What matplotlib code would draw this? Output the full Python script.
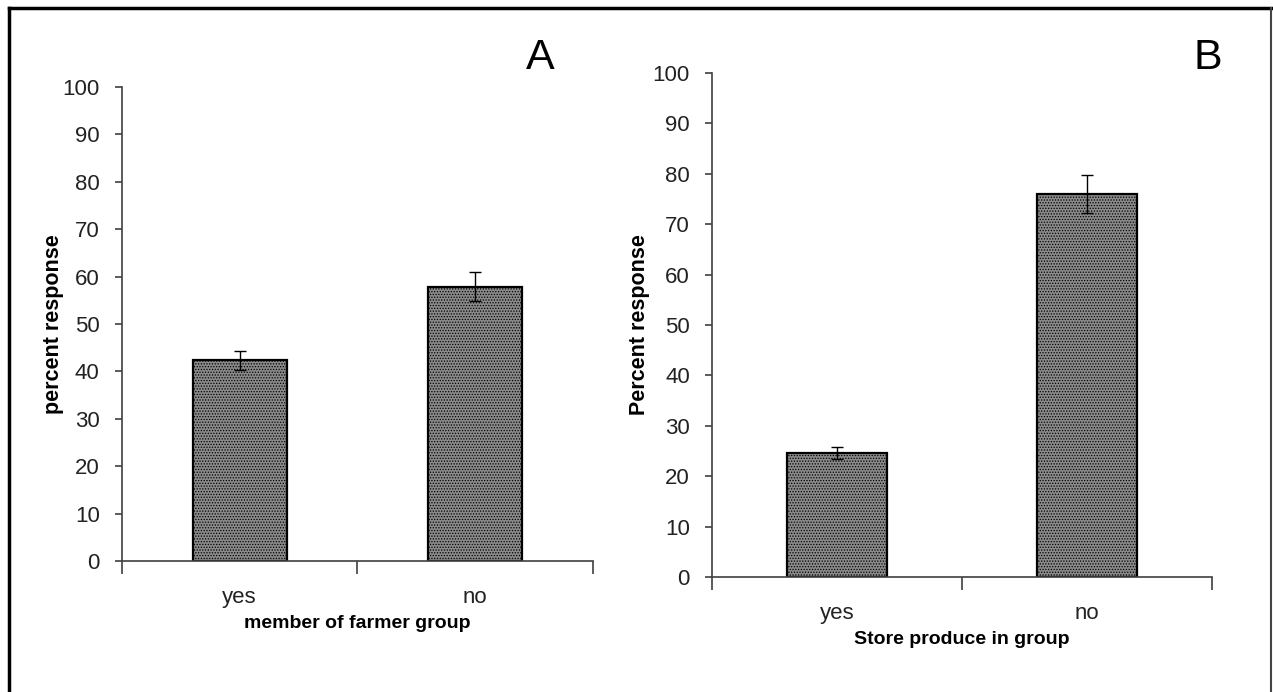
import matplotlib.pyplot as plt
from matplotlib.lines import Line2D

# values
categories = ['yes', 'no']
member_pct = [42.3, 57.9]
member_err = [2.0, 3.0]
store_pct = [24.6, 76.0]
store_err = [1.2, 3.8]
y_ticks = list(range(0, 101, 10))

plt.rcParams['font.family'] = ['Liberation Sans']
plt.rcParams['hatch.linewidth'] = 0.6
plt.rcParams['hatch.color'] = '#505050'

fig = plt.figure(figsize=(12.73, 6.92), dpi=100)
axA = fig.add_axes([0.0958, 0.1893, 0.370, 0.685])
axB = fig.add_axes([0.5593, 0.1662, 0.3928, 0.7283])


def draw_panel(ax, values, errors, xlabel, ylabel):
    x = list(range(len(categories)))
    ax.bar(x, values, width=0.4, color='#8a8a8a', edgecolor='black',
           linewidth=1.6, hatch='......', zorder=2)
    ax.errorbar(x, values, yerr=errors, fmt='none', ecolor='black',
                elinewidth=1, capsize=4.5, capthick=1, zorder=3)
    ax.set_xlim(-0.5, 1.5)
    ax.set_ylim(0, 100)
    ax.set_yticks(y_ticks)
    ax.set_xticks(x, categories)
    ax.set_xticks([-0.5, 0.5, 1.5], minor=True)
    ax.tick_params(axis='x', which='major', length=0, pad=19, labelsize=16,
                   labelcolor='#222222')
    ax.tick_params(axis='x', which='minor', length=9, width=1.2,
                   color='#404040', direction='out')
    ax.tick_params(axis='y', length=5, width=1.2, color='#404040',
                   pad=11, labelsize=16, labelcolor='#222222')
    for s in ['top', 'right']:
        ax.spines[s].set_visible(False)
    for s in ['left', 'bottom']:
        ax.spines[s].set_color('#404040')
        ax.spines[s].set_linewidth(1.2)
    ax.set_xlabel(xlabel, fontsize=14, fontweight='bold', labelpad=5)
    ax.set_ylabel(ylabel, fontsize=15.5, fontweight='bold')
    ax.yaxis.set_label_coords(-0.124, 0.5)


draw_panel(axA, member_pct, member_err, 'member of farmer group', 'percent response')
draw_panel(axB, store_pct, store_err, 'Store produce in group', 'Percent response')

fig.text(0.4242, 0.9162, 'A', fontsize=31, ha='center', va='center')
fig.text(0.9489, 0.9162, 'B', fontsize=31, ha='center', va='center')

# outer frame (bottom edge runs off the picture)
fig.add_artist(Line2D([0.0067, 0.0067], [0.0, 0.9885], color='black', lw=2.5,
                      transform=fig.transFigure))
fig.add_artist(Line2D([0.0067, 0.9988], [0.9885, 0.9885], color='black', lw=2.5,
                      transform=fig.transFigure))
fig.add_artist(Line2D([0.9988, 0.9988], [0.0, 0.9885], color='#444444', lw=1.5,
                      transform=fig.transFigure))

fig.savefig('out.png', dpi=100)
